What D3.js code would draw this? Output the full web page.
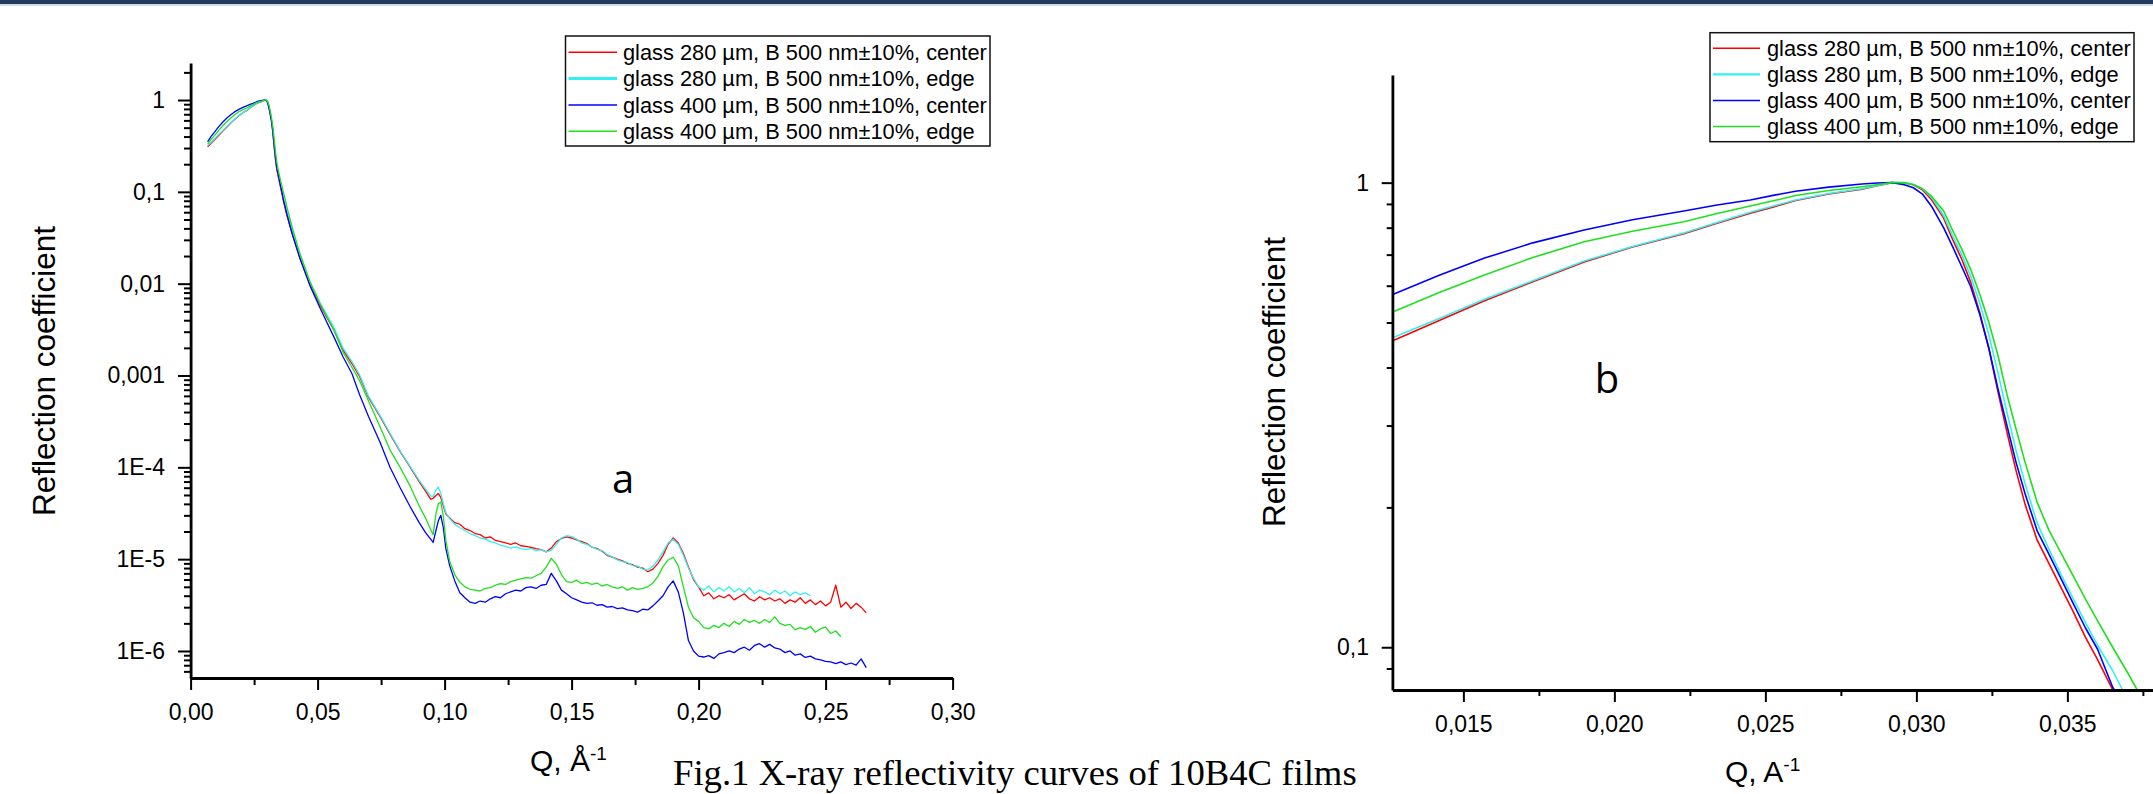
<!DOCTYPE html>
<html><head><meta charset="utf-8">
<script src="https://cdn.jsdelivr.net/npm/d3@7"></script>
<style>
html,body{margin:0;padding:0;background:#fff;overflow:hidden;}
svg{display:block;}
</style></head><body>
<svg id="chart" width="2153" height="794"></svg>
<script>
// ---------------- DATA ----------------
const qGrid = [
 0.0067,0.0080,0.0095,0.0110,0.0127,0.0142,0.0157,0.0173,0.0190,0.0206,
 0.0223,0.0234,0.0245,0.0253,0.0260,0.0271,0.0282,0.0287,0.0292,0.0296,
 0.0299,0.0302,0.0305,0.0309,0.0312,0.0315,0.0318,0.0321,0.0324,0.0327,
 0.0330,0.0333,0.0336,0.0340,0.0344,0.0348,0.0352,0.0356,0.0360,0.0365,
 0.0370,0.0375,0.0380,0.0400,0.0430,0.0470,0.0510,0.0565,0.0600,0.0635,
 0.0665,0.0700,0.0745,0.0785,0.0825,0.0865,0.0900,0.0925,0.0945,0.0955,
 0.0965,0.0975,0.0985,0.0995,0.1005,0.102,0.104,0.106,0.108,0.110,
 0.112,0.114,0.116,0.118,0.120,0.122,0.124,0.126,0.128,0.130,
 0.132,0.134,0.136,0.138,0.140,0.142,0.144,0.146,0.148,0.150,
 0.152,0.154,0.156,0.158,0.160,0.162,0.164,0.166,0.168,0.170,
 0.172,0.174,0.176,0.178,0.180,0.182,0.184,0.186,0.188,0.190,
 0.192,0.194,0.196,0.198,0.200,0.202,0.204,0.206,0.208,0.210,
 0.212,0.214,0.216,0.218,0.220,0.222,0.224,0.226,0.228,0.230,
 0.232,0.234,0.236,0.238,0.240,0.242,0.244,0.246,0.248,0.250,
 0.252,0.254,0.256,0.258,0.260,0.262,0.264,0.266
];
const rGlass280Center = [
 0.31,0.335,0.37,0.41,0.458,0.505,0.557,0.612,0.675,0.727,
 0.776,0.818,0.859,0.888,0.915,0.945,0.968,0.985,1.0,0.998,
 0.99,0.965,0.92,0.84,0.755,0.685,0.61,0.525,0.44,0.355,
 0.29,0.24,0.203,0.17,0.151,0.134,0.119,0.105,0.094,0.081,
 0.07,0.061,0.054,0.035,0.019,0.0098,0.0058,0.0031,0.0019,0.00135,
 0.00098,0.00058,0.00036,0.00023,0.000148,0.0001,7.0e-5,5.5e-5,4.5e-5,4.6e-5,
 4.9e-5,5.2e-5,4.7e-5,3.8e-5,3.1e-5,2.8e-5,2.5e-5,2.4e-5,2.15e-5,2.05e-5,
 1.9e-5,1.85e-5,1.7e-5,1.75e-5,1.6e-5,1.55e-5,1.5e-5,1.45e-5,1.5e-5,1.4e-5,
 1.38e-5,1.34e-5,1.3e-5,1.27e-5,1.2e-5,1.32e-5,1.55e-5,1.68e-5,1.75e-5,1.7e-5,
 1.62e-5,1.55e-5,1.48e-5,1.35e-5,1.3e-5,1.22e-5,1.1e-5,1.05e-5,1.0e-5,9.6e-6,
 9.0e-6,8.7e-6,8.2e-6,8.0e-6,7.3e-6,7.8e-6,9.0e-6,1.1e-5,1.45e-5,1.7e-5,
 1.5e-5,1.15e-5,8.2e-6,6.0e-6,5.0e-6,4.0e-6,4.3e-6,3.7e-6,4.0e-6,3.8e-6,
 4.1e-6,3.6e-6,3.9e-6,4.2e-6,3.7e-6,3.5e-6,3.9e-6,3.6e-6,3.8e-6,3.5e-6,
 3.7e-6,3.3e-6,3.6e-6,3.4e-6,3.8e-6,3.3e-6,3.6e-6,3.2e-6,3.5e-6,3.1e-6,
 3.4e-6,5.2e-6,3.0e-6,3.4e-6,2.9e-6,3.3e-6,3.0e-6,2.6e-6
];
const rGlass280Edge = [
 0.32,0.345,0.38,0.42,0.465,0.51,0.561,0.615,0.678,0.729,
 0.779,0.821,0.864,0.892,0.918,0.948,0.970,0.986,1.0,0.999,
 0.992,0.97,0.93,0.85,0.768,0.70,0.628,0.55,0.47,0.39,
 0.32,0.265,0.225,0.185,0.162,0.143,0.127,0.113,0.101,0.089,
 0.077,0.067,0.059,0.038,0.0205,0.0105,0.0062,0.0033,0.002,0.00142,
 0.00102,0.0006,0.00037,0.000235,0.00015,0.000102,7.2e-5,5.8e-5,4.9e-5,4.8e-5,
 5.6e-5,6.1e-5,5.2e-5,4.0e-5,3.2e-5,2.75e-5,2.4e-5,2.2e-5,2.05e-5,1.9e-5,
 1.8e-5,1.7e-5,1.65e-5,1.55e-5,1.5e-5,1.42e-5,1.38e-5,1.32e-5,1.36e-5,1.3e-5,
 1.28e-5,1.3e-5,1.24e-5,1.27e-5,1.2e-5,1.25e-5,1.45e-5,1.7e-5,1.8e-5,1.76e-5,
 1.65e-5,1.5e-5,1.45e-5,1.36e-5,1.28e-5,1.24e-5,1.12e-5,1.06e-5,9.8e-6,9.4e-6,
 9.2e-6,8.5e-6,8.4e-6,7.8e-6,7.6e-6,8.4e-6,9.8e-6,1.2e-5,1.5e-5,1.65e-5,
 1.45e-5,1.1e-5,8.0e-6,6.2e-6,5.0e-6,4.6e-6,5.1e-6,4.4e-6,4.9e-6,4.5e-6,
 5.0e-6,4.4e-6,4.8e-6,4.3e-6,4.9e-6,4.2e-6,4.6e-6,4.4e-6,4.1e-6,4.6e-6,
 4.2e-6,4.5e-6,4.0e-6,4.4e-6,4.1e-6,4.3e-6,4.0e-6
];
const rGlass400Center = [
 0.35,0.40,0.45,0.51,0.576,0.632,0.688,0.742,0.791,0.832,
 0.869,0.895,0.918,0.94,0.958,0.978,0.993,0.998,1.0,0.99,
 0.975,0.945,0.89,0.80,0.728,0.66,0.597,0.52,0.44,0.36,
 0.30,0.25,0.214,0.178,0.158,0.14,0.124,0.11,0.099,0.082,
 0.073,0.064,0.056,0.035,0.019,0.0095,0.0054,0.0026,0.0016,0.00105,
 0.00062,0.00036,0.00019,0.0001,6.0e-5,3.7e-5,2.5e-5,1.95e-5,1.65e-5,1.52e-5,
 2.0e-5,2.6e-5,3.0e-5,2.2e-5,1.3e-5,8.5e-6,5.8e-6,4.3e-6,3.8e-6,3.4e-6,
 3.3e-6,3.5e-6,3.4e-6,3.7e-6,3.9e-6,3.8e-6,4.2e-6,4.4e-6,4.6e-6,4.5e-6,
 4.9e-6,5.0e-6,4.8e-6,5.2e-6,5.3e-6,7.0e-6,5.8e-6,4.6e-6,4.2e-6,3.8e-6,
 3.6e-6,3.4e-6,3.3e-6,3.35e-6,3.15e-6,3.2e-6,3.0e-6,3.05e-6,2.9e-6,2.95e-6,
 2.8e-6,2.75e-6,2.65e-6,2.85e-6,2.8e-6,3.1e-6,3.5e-6,4.0e-6,5.0e-6,5.8e-6,
 4.4e-6,2.6e-6,1.3e-6,1.0e-6,8.8e-7,8.6e-7,8.9e-7,8.3e-7,9.3e-7,9.6e-7,
 1.0e-6,9.6e-7,1.05e-6,1.1e-6,1.02e-6,1.15e-6,1.2e-6,1.1e-6,1.18e-6,1.08e-6,
 1.05e-6,9.6e-7,1.0e-6,9.0e-7,9.3e-7,8.5e-7,8.8e-7,8.2e-7,8.0e-7,7.7e-7,
 7.6e-7,7.3e-7,7.6e-7,7.1e-7,7.4e-7,7.0e-7,8.2e-7,6.6e-7
];
const rGlass400Edge = [
 0.33,0.37,0.415,0.465,0.528,0.58,0.633,0.69,0.746,0.786,
 0.824,0.858,0.891,0.915,0.938,0.962,0.980,0.99,1.0,1.0,
 0.99,0.97,0.935,0.87,0.79,0.72,0.65,0.575,0.50,0.425,
 0.35,0.295,0.25,0.205,0.178,0.159,0.142,0.127,0.114,0.10,
 0.088,0.077,0.067,0.041,0.0215,0.0105,0.006,0.0031,0.0018,0.00123,
 0.00088,0.00053,0.00028,0.000155,0.0001,6.2e-5,3.8e-5,2.8e-5,2.1e-5,1.85e-5,
 3.0e-5,4.0e-5,4.2e-5,2.9e-5,1.6e-5,9.5e-6,6.8e-6,5.6e-6,5.0e-6,4.7e-6,
 4.6e-6,4.5e-6,4.8e-6,4.9e-6,5.2e-6,5.4e-6,5.3e-6,5.7e-6,5.9e-6,6.1e-6,
 6.3e-6,6.2e-6,6.6e-6,7.0e-6,8.2e-6,1.02e-5,8.8e-6,6.8e-6,5.7e-6,5.6e-6,
 5.9e-6,5.4e-6,5.6e-6,5.3e-6,5.5e-6,5.1e-6,5.3e-6,5.0e-6,4.8e-6,5.0e-6,
 4.6e-6,4.9e-6,4.7e-6,4.8e-6,5.0e-6,5.5e-6,6.5e-6,8.3e-6,9.8e-6,1.05e-5,
 8.5e-6,5.0e-6,3.0e-6,2.3e-6,2.1e-6,1.8e-6,1.75e-6,1.9e-6,1.8e-6,2.0e-6,
 1.85e-6,2.1e-6,1.95e-6,2.2e-6,2.05e-6,2.15e-6,2.0e-6,2.2e-6,2.05e-6,2.35e-6,
 2.0e-6,1.9e-6,1.95e-6,1.7e-6,1.8e-6,1.72e-6,1.85e-6,1.6e-6,1.75e-6,1.82e-6,
 1.55e-6,1.65e-6,1.43e-6
];
const seriesNames = [
 "glass 280 µm, B 500 nm±10%, center",
 "glass 280 µm, B 500 nm±10%, edge",
 "glass 400 µm, B 500 nm±10%, center",
 "glass 400 µm, B 500 nm±10%, edge"
];
const leftYMajor = [1e-6,1e-5,1e-4,1e-3,1e-2,1e-1,1];
const leftYLabels = ["1E-6","1E-5","1E-4","0,001","0,01","0,1","1"];
const leftXMajor = [0,0.05,0.10,0.15,0.20,0.25,0.30];
const leftXLabels = ["0,00","0,05","0,10","0,15","0,20","0,25","0,30"];
const leftXMinor = [0.025,0.075,0.125,0.175,0.225,0.275];
const rightYMajor = [0.1,1];
const rightYLabels = ["0,1","1"];
const rightXMajor = [0.015,0.020,0.025,0.030,0.035];
const rightXLabels = ["0,015","0,020","0,025","0,030","0,035"];
const rightXMinor = [0.0175,0.0225,0.0275,0.0325,0.0375];

// ---------------- STYLE ----------------
const seriesColors = ["#ff0000","#33f0f0","#0000ff","#1ee01e"];
const legendWidthsL = [1.5,3,1.5,1.5];
const legendWidthsR = [1.5,2.2,1.5,1.5];
const SANS = '"Liberation Sans", Arial, sans-serif';

const svg = d3.select("#chart");
const W = 2153;

// top band
svg.append("rect").attr("x",0).attr("y",0).attr("width",W).attr("height",4).attr("fill","#243a5c");
svg.append("rect").attr("x",0).attr("y",4).attr("width",W).attr("height",2).attr("fill","#d3dbe6");

const allR = [rGlass280Center, rGlass280Edge, rGlass400Center, rGlass400Edge];
const series = allR.map((r,i)=>({name: seriesNames[i], color: seriesColors[i],
  pts: r.map((v,j)=>[qGrid[j], v])}));

function styleAxis(g, fs){
  g.attr("font-family", null).attr("font-size", null);
  g.selectAll(".domain").attr("stroke","#000").attr("stroke-width",2.8);
  g.selectAll(".tick line").attr("stroke","#000").attr("stroke-width",2);
  g.selectAll(".tick text").attr("fill","#000").style("font-family",SANS).style("font-size",fs+"px");
}
function logMinor(scale){
  return scale.ticks().filter(v=>{
    const e = Math.floor(Math.log10(v)+1e-9);
    const m = v/Math.pow(10,e);
    return Math.abs(m-1)>1e-6;
  });
}

// ================= LEFT PANEL =================
const xL = d3.scaleLinear().domain([0,0.30]).range([190.6,952.6]);
const yL = d3.scaleLog().domain([5.08e-7,2.53]).range([678,63]);

const lineL = d3.line().x(d=>xL(d[0])).y(d=>yL(d[1]));
const gLines = svg.append("g");
series.forEach(s=>{
  gLines.append("path").attr("d",lineL(s.pts)).attr("fill","none")
    .attr("stroke",s.color).attr("stroke-width",1.3).attr("stroke-linejoin","round");
});

const gYL = svg.append("g").attr("transform",`translate(${xL.range()[0]},0)`);
gYL.call(d3.axisLeft(yL).tickValues(logMinor(yL)).tickSize(6.6).tickSizeOuter(0).tickFormat(""));
styleAxis(gYL,22);
const gYL2 = svg.append("g").attr("transform",`translate(${xL.range()[0]},0)`);
gYL2.call(d3.axisLeft(yL).tickValues(leftYMajor).tickSize(12.6).tickSizeOuter(0).tickPadding(13)
  .tickFormat((d,i)=>leftYLabels[i]));
gYL2.select(".domain").remove();
styleAxis(gYL2,23);

const gXL = svg.append("g").attr("transform",`translate(0,${yL.range()[0]})`);
gXL.call(d3.axisBottom(xL).tickValues(leftXMinor).tickSize(7).tickSizeOuter(0).tickFormat(""));
styleAxis(gXL,22);
const gXL2 = svg.append("g").attr("transform",`translate(0,${yL.range()[0]})`);
gXL2.call(d3.axisBottom(xL).tickValues(leftXMajor).tickSize(12).tickSizeOuter(0).tickPadding(14)
  .tickFormat((d,i)=>leftXLabels[i]));
gXL2.select(".domain").remove();
styleAxis(gXL2,23);

// ================= RIGHT PANEL =================
const xR = d3.scaleLinear().domain([0.01265,0.037835]).range([1392.4,2153]);
const yR = d3.scaleLog().domain([0.0809,1.705]).range([690,75]);
svg.append("clipPath").attr("id","clipR").append("rect")
  .attr("x",xR.range()[0]).attr("y",yR.range()[1])
  .attr("width",xR.range()[1]-xR.range()[0]).attr("height",yR.range()[0]-yR.range()[1]);
const lineR = d3.line().x(d=>xR(d[0])).y(d=>yR(d[1]));
const gLinesR = svg.append("g").attr("clip-path","url(#clipR)");
series.forEach(s=>{
  gLinesR.append("path").attr("d",lineR(s.pts)).attr("fill","none")
    .attr("stroke",s.color).attr("stroke-width",1.6).attr("stroke-linejoin","round");
});

const gYR = svg.append("g").attr("transform",`translate(${xR.range()[0]},0)`);
gYR.call(d3.axisLeft(yR).tickValues(logMinor(yR)).tickSize(5.7).tickSizeOuter(0).tickFormat(""));
styleAxis(gYR,22);
const gYR2 = svg.append("g").attr("transform",`translate(${xR.range()[0]},0)`);
gYR2.call(d3.axisLeft(yR).tickValues(rightYMajor).tickSize(10.7).tickSizeOuter(0).tickPadding(12.7)
  .tickFormat((d,i)=>rightYLabels[i]));
gYR2.select(".domain").remove();
styleAxis(gYR2,23);

const gXR = svg.append("g").attr("transform",`translate(0,${yR.range()[0]})`);
gXR.call(d3.axisBottom(xR).tickValues(rightXMinor).tickSize(6).tickSizeOuter(0).tickFormat(""));
styleAxis(gXR,22);
const gXR2 = svg.append("g").attr("transform",`translate(0,${yR.range()[0]})`);
gXR2.call(d3.axisBottom(xR).tickValues(rightXMajor).tickSize(12).tickSizeOuter(0).tickPadding(14)
  .tickFormat((d,i)=>rightXLabels[i]));
gXR2.select(".domain").remove();
styleAxis(gXR2,23);

// ================= TITLES =================
function yTitle(x,y){
  svg.append("text").attr("transform",`translate(${x},${y}) rotate(-90)`)
    .attr("text-anchor","middle").style("font-family",SANS).style("font-size","31.5px")
    .attr("fill","#000").text("Reflection coefficient");
}
yTitle(55,371);
yTitle(1285,382);

function xTitle(x,y,base){
  const t = svg.append("text").attr("x",x).attr("y",y).style("font-family",SANS)
    .style("font-size","30px").attr("fill","#000");
  t.append("tspan").text(base);
  t.append("tspan").attr("dy",-11).style("font-size","19px").text("-1");
}
xTitle(530,771,"Q, Å");
xTitle(1725,782,"Q, A");

svg.append("text").attr("x",623).attr("y",493).attr("text-anchor","middle")
  .style("font-family",'"Open Sans", sans-serif').style("font-size","40px").attr("fill","#000").text("a");
svg.append("text").attr("x",1607).attr("y",393).attr("text-anchor","middle")
  .style("font-family",'"Open Sans", sans-serif').style("font-size","40px").attr("fill","#000").text("b");

svg.append("text").attr("x",673).attr("y",785)
  .style("font-family",'"Liberation Serif", "Times New Roman", serif').style("font-size","36.7px")
  .attr("fill","#000").text("Fig.1 X-ray reflectivity curves of 10B4C films");

// ================= LEGENDS =================
function legend(box, rows0, step, lx0, lx1, tx, widths){
  const g = svg.append("g");
  g.append("rect").attr("x",box[0]).attr("y",box[1]).attr("width",box[2]-box[0]).attr("height",box[3]-box[1])
    .attr("fill","#fff").attr("stroke","#111").attr("stroke-width",1.5);
  series.forEach((s,i)=>{
    const y = rows0 + i*step;
    g.append("line").attr("x1",lx0).attr("x2",lx1).attr("y1",y).attr("y2",y)
      .attr("stroke",s.color).attr("stroke-width",widths[i]);
    g.append("text").attr("x",tx).attr("y",y).attr("dy","0.35em")
      .style("font-family",SANS).style("font-size","21.8px").attr("fill","#000").text(s.name);
  });
}
legend([565.5,36,990,146], 52.3, 26.3, 568.5, 617, 623, legendWidthsL);
legend([1710,32.7,2134,141.7], 48.3, 26.1, 1713, 1760, 1767, legendWidthsR);
</script>
</body></html>
